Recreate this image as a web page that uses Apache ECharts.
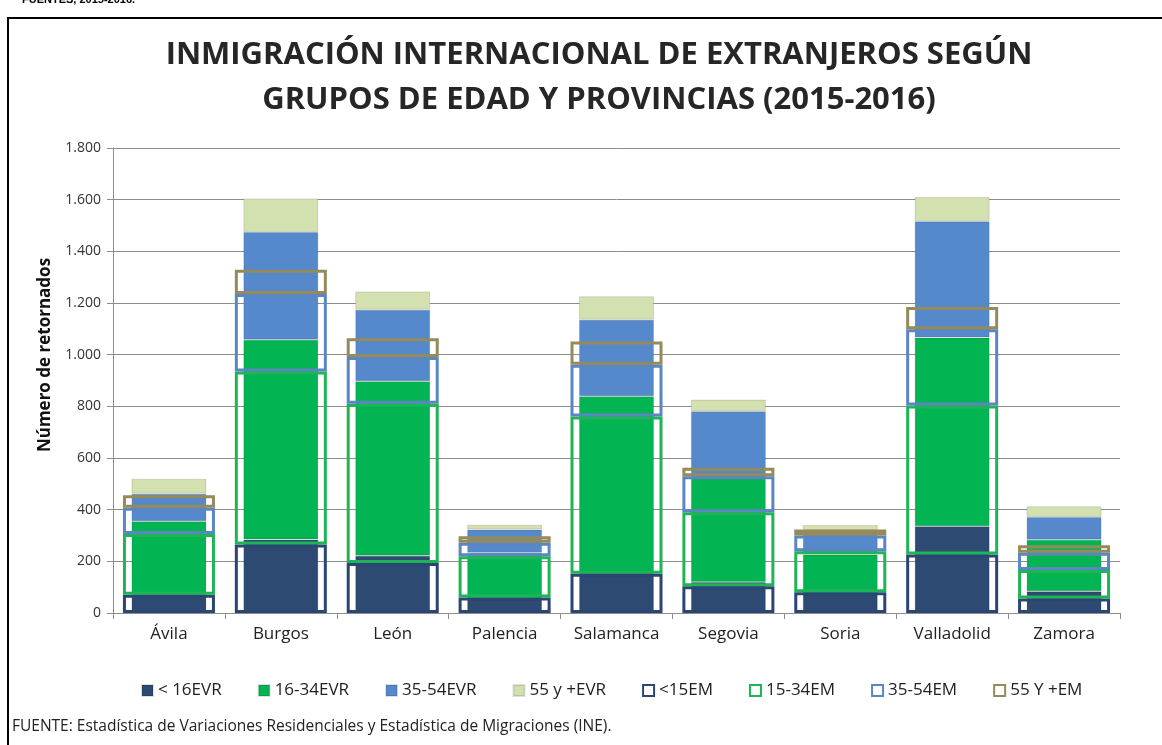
<!DOCTYPE html>
<html>
<head>
<meta charset="utf-8">
<style>
  html, body { margin: 0; padding: 0; background: #fff; }
  #main { width: 1162px; height: 745px; }
</style>
<script src="https://cdn.jsdelivr.net/npm/echarts@6/dist/echarts.min.js"></script>
</head>
<body>
<div id="main"></div>
<script>
var chartDom = document.getElementById('main');
var myChart = echarts.init(chartDom);
var option;

// provincias
const provincias = ['Ávila', 'Burgos', 'León', 'Palencia', 'Salamanca', 'Segovia', 'Soria', 'Valladolid', 'Zamora'];

// Estadística de Variaciones Residenciales (barras rellenas)
const evrMenor16 = [75, 285, 222, 52, 160, 120, 72, 336, 84];
const evr16a34 = [280, 773, 675, 181, 679, 403, 154, 730, 200];
const evr35a54 = [107, 417, 277, 90, 296, 258, 95, 450, 88];
const evr55mas = [58, 130, 71, 19, 91, 45, 20, 94, 41];

// Estadística de Migraciones (barras huecas)
const emMenor15 = [71, 265, 194, 60, 152, 104, 80, 226, 56];
const em15a34 = [235, 670, 616, 160, 609, 286, 159, 577, 110];
const em35a54 = [101, 300, 181, 52, 200, 139, 61, 295, 67];
const em55mas = [49, 94, 73, 25, 90, 33, 23, 87, 29];

const yTicks = { min: 0, max: 1800, interval: 200 };

const font = 'Open Sans';

function miles(v) {
  return String(v).replace(/\B(?=(\d{3})+(?!\d))/g, '.');
}

function relleno(name, data, color) {
  return {
    name: name,
    type: 'bar',
    stack: 'evr',
    xAxisIndex: 0,
    barWidth: 75,
    data: data,
    z: 2,
    itemStyle: {
      color: color,
      borderColor: 'rgba(0,0,0,0.12)',
      borderWidth: 1
    }
  };
}

function hueco(name, data, color) {
  return {
    name: name,
    type: 'bar',
    stack: 'em',
    xAxisIndex: 1,
    barWidth: 92,
    data: data,
    z: 5,
    itemStyle: {
      color: 'rgba(255,255,255,0)',
      borderColor: color,
      borderWidth: 3
    }
  };
}

option = {
  backgroundColor: '#fff',
  animation: false,
  grid: {
    left: 113,
    right: 42,
    top: 148,
    bottom: 132
  },
  legend: {
    top: 677,
    left: 136,
    itemWidth: 11,
    itemHeight: 11,
    itemGap: 36,
    icon: 'rect',
    textStyle: { fontFamily: font, fontSize: 17, color: '#222' },
    data: ['< 16EVR', '16-34EVR', '35-54EVR', '55 y +EVR', '<15EM', '15-34EM', '35-54EM', '55 Y +EM']
  },
  xAxis: [
    {
      type: 'category',
      data: provincias,
      axisLine: { lineStyle: { color: '#8c8c8c', width: 1 } },
      axisTick: { show: true, length: 6, lineStyle: { color: '#8c8c8c' } },
      axisLabel: { fontFamily: font, fontSize: 17, color: '#222', margin: 13 }
    },
    {
      type: 'category',
      data: provincias,
      position: 'bottom',
      show: false
    }
  ],
  yAxis: {
    type: 'value',
    min: yTicks.min,
    max: yTicks.max,
    interval: yTicks.interval,
    axisLine: { show: true, lineStyle: { color: '#8c8c8c' } },
    axisTick: { show: true, length: 6, lineStyle: { color: '#8c8c8c' } },
    axisLabel: { fontFamily: font, fontSize: 14, color: '#333', margin: 12, formatter: miles },
    splitLine: { lineStyle: { color: '#8c8c8c', width: 1 } }
  },
  graphic: [
    {
      type: 'text',
      left: 22,
      top: -6,
      style: { text: 'FUENTES, 2015-2016.', font: 'bold 11px "Liberation Sans"', fill: '#000' }
    },
    {
      type: 'polyline',
      shape: { points: [[1162, 18], [8, 18], [8, 745]] },
      style: { stroke: '#000', lineWidth: 2, fill: null }
    },
    {
      type: 'text',
      x: 599,
      y: 77.5,
      style: {
        text: 'INMIGRACIÓN INTERNACIONAL DE EXTRANJEROS SEGÚN\nGRUPOS DE EDAD Y PROVINCIAS (2015-2016)',
        font: 'bold 31px "Open Sans"',
        lineHeight: 45,
        fill: '#262626',
        align: 'center',
        verticalAlign: 'middle'
      }
    },
    {
      type: 'text',
      x: 45,
      y: 355,
      rotation: Math.PI / 2,
      style: {
        text: 'Número de retornados',
        font: 'bold 17px "Open Sans"',
        fill: '#111',
        align: 'center',
        verticalAlign: 'middle'
      }
    },
    {
      type: 'text',
      left: 12,
      top: 719,
      style: {
        text: 'FUENTE: Estadística de Variaciones Residenciales y Estadística de Migraciones (INE).',
        font: '15.5px "Open Sans"',
        fill: '#222'
      }
    }
  ],
  series: [
    relleno('< 16EVR', evrMenor16, '#2c4a72'),
    relleno('16-34EVR', evr16a34, '#03b552'),
    relleno('35-54EVR', evr35a54, '#5589cc'),
    relleno('55 y +EVR', evr55mas, '#d3e0b0'),
    hueco('<15EM', emMenor15, '#2b4675'),
    hueco('15-34EM', em15a34, '#1fb456'),
    hueco('35-54EM', em35a54, '#5a86c2'),
    hueco('55 Y +EM', em55mas, '#958a5a')
  ]
};

option && myChart.setOption(option);
</script>
</body>
</html>
